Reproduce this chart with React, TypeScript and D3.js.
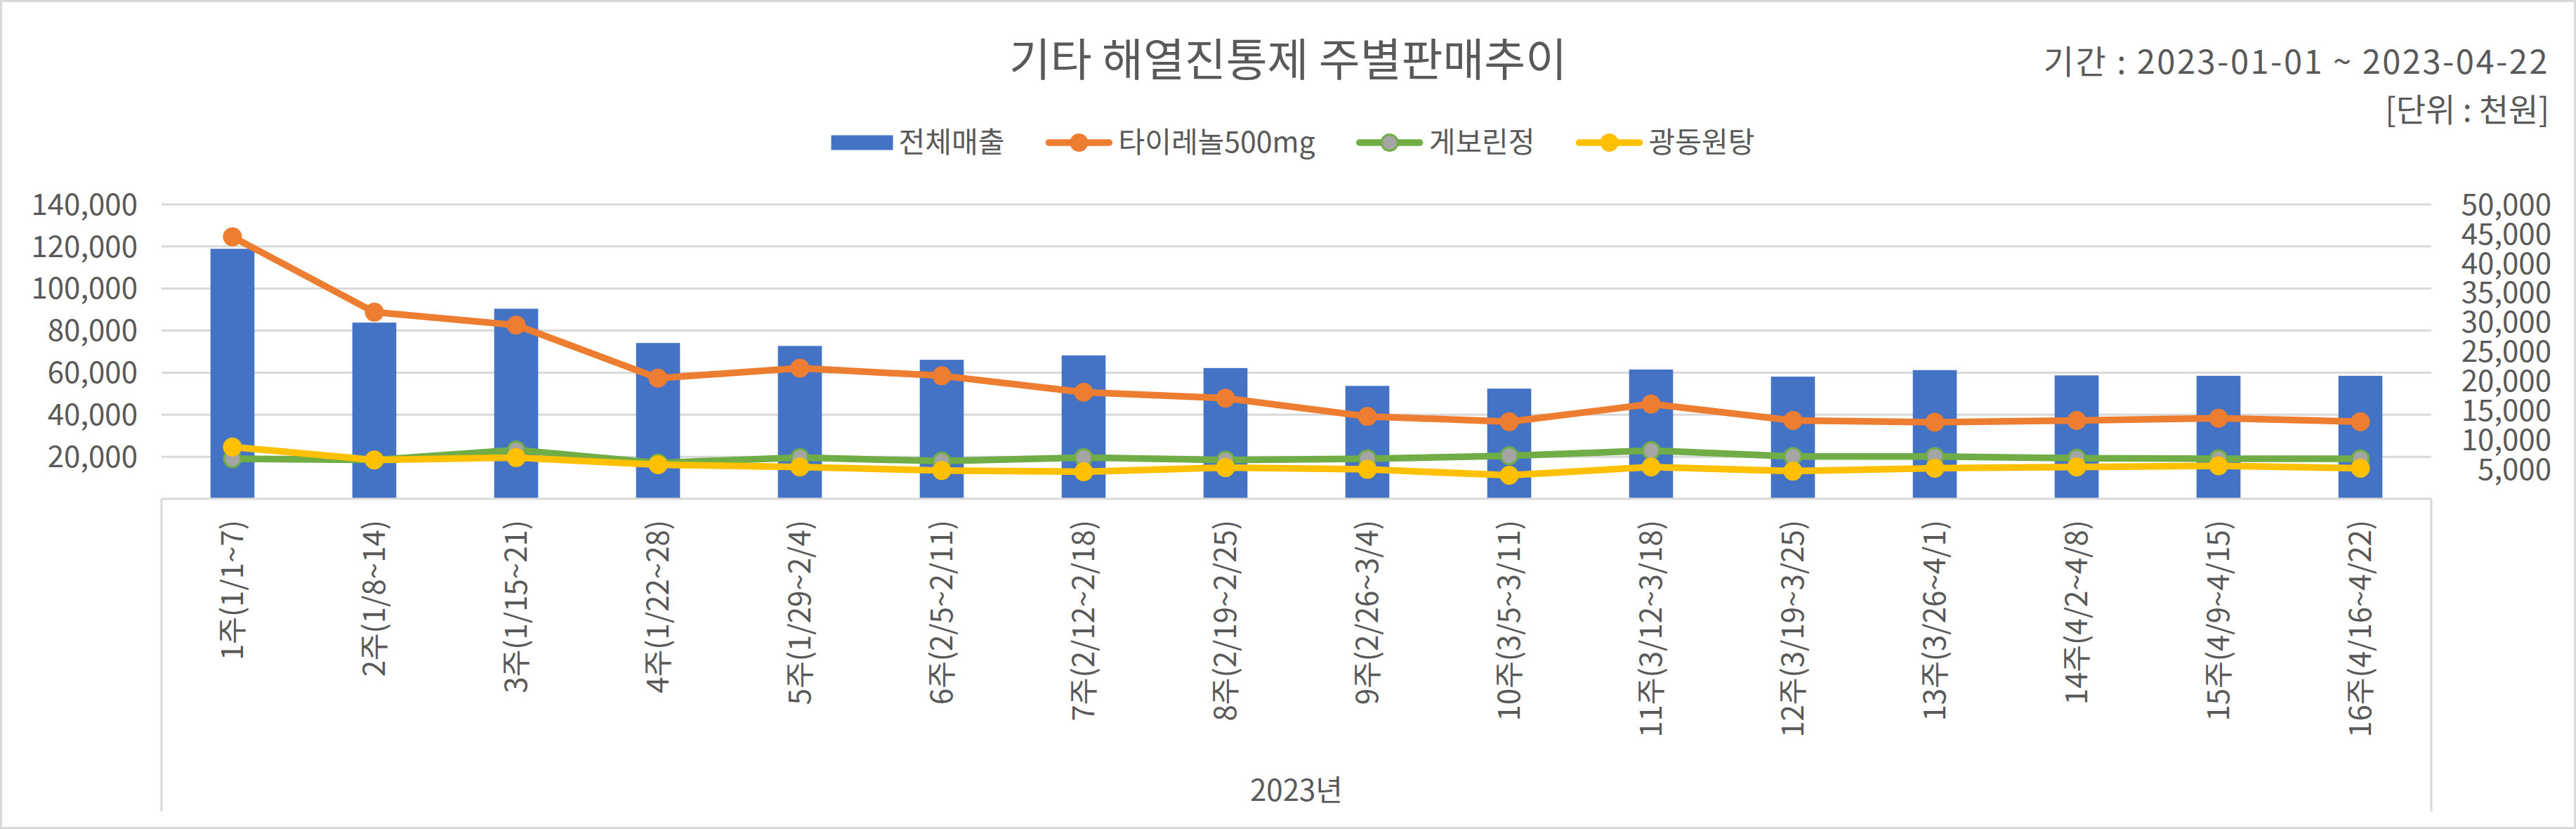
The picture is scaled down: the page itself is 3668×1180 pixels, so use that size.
import React, { useRef, useEffect } from 'react';
import * as d3 from 'd3';

// 주차 라벨
const weeks = [
  '1주(1/1~7)', '2주(1/8~14)', '3주(1/15~21)', '4주(1/22~28)',
  '5주(1/29~2/4)', '6주(2/5~2/11)', '7주(2/12~2/18)', '8주(2/19~2/25)',
  '9주(2/26~3/4)', '10주(3/5~3/11)', '11주(3/12~3/18)', '12주(3/19~3/25)',
  '13주(3/26~4/1)', '14주(4/2~4/8)', '15주(4/9~4/15)', '16주(4/16~4/22)',
];

// 전체매출 (왼쪽 축)
const totalSales = [118900, 83800, 90400, 74100, 72700, 66100, 68200, 62200, 53700, 52400, 61500, 58100, 61200, 58700, 58500, 58500];
// 품목별 (오른쪽 축)
const tylenol = [44500, 31700, 29500, 20500, 22200, 20900, 18100, 17100, 14000, 13100, 16100, 13300, 13000, 13300, 13700, 13100];
const geborin = [6800, 6600, 8300, 6100, 7000, 6400, 7000, 6600, 6800, 7300, 8200, 7200, 7200, 6900, 6800, 6800];
const gwangdong = [8800, 6600, 7000, 5800, 5400, 4800, 4600, 5300, 5000, 4000, 5400, 4700, 5200, 5400, 5600, 5200];

const leftTicks = [20000, 40000, 60000, 80000, 100000, 120000, 140000];
const rightTicks = [5000, 10000, 15000, 20000, 25000, 30000, 35000, 40000, 45000, 50000];

const TITLE = '기타 해열진통제 주별판매추이';
const PERIOD = '기간 : 2023-01-01 ~ 2023-04-22';
const UNIT = '[단위 : 천원]';
const YEAR = '2023년';

const FONT = '"Noto Sans CJK KR", "Noto Sans", sans-serif';
const TEXT = '#595959';
const GRID = '#D9D9D9';

const lineSeries = [
  { name: '타이레놀500mg', values: tylenol, color: '#ED7D31', fill: '#ED7D31' },
  { name: '게보린정', values: geborin, color: '#70AD47', fill: '#A5A5A5' },
  { name: '광동원탕', values: gwangdong, color: '#FFC000', fill: '#FFC000' },
];

const W = 3668;
const H = 1180;

const Chart: React.FC = () => {
  const svgRef = useRef<SVGSVGElement | null>(null);

  useEffect(() => {
    if (!svgRef.current) return;
    const svg = d3.select(svgRef.current);
    svg.selectAll('*').remove();

    const left = 230, right = 3462, top = 291, bottom = 710, catBottom = 1155;

    const x = d3.scaleBand().domain(weeks).range([left, right]).paddingInner(0.69).paddingOuter(0.345);
    const yL = d3.scaleLinear().domain([0, 140000]).range([bottom, top]);
    const yR = d3.scaleLinear().domain([0, 50000]).range([bottom, top]);
    const cx = (i: number) => x(weeks[i])! + x.bandwidth() / 2;

    svg.append('rect')
      .attr('x', 1.5).attr('y', 1.5).attr('width', W - 3).attr('height', H - 3)
      .attr('fill', '#ffffff').attr('stroke', GRID).attr('stroke-width', 3);

    // 제목
    svg.append('text')
      .attr('x', W / 2).attr('y', 108)
      .attr('text-anchor', 'middle').attr('font-size', 64).attr('fill', TEXT)
      .attr('font-family', FONT).text(TITLE);

    svg.append('text')
      .attr('x', 3630).attr('y', 105)
      .attr('text-anchor', 'end').attr('font-size', 47).attr('fill', TEXT)
      .attr('letter-spacing', 2.5)
      .attr('font-family', FONT).text(PERIOD);

    svg.append('text')
      .attr('x', 3630).attr('y', 173)
      .attr('text-anchor', 'end').attr('font-size', 46).attr('fill', TEXT)
      .attr('font-family', FONT).text(UNIT);

    // 그리드
    svg.append('g').selectAll('line')
      .data(leftTicks)
      .join('line')
      .attr('x1', left).attr('x2', right)
      .attr('y1', d => yL(d)).attr('y2', d => yL(d))
      .attr('stroke', GRID).attr('stroke-width', 3);

    // 축 라벨
    svg.append('g').selectAll('text')
      .data(leftTicks)
      .join('text')
      .attr('x', 196).attr('y', d => yL(d)).attr('dy', '0.35em')
      .attr('text-anchor', 'end').attr('font-size', 42).attr('fill', TEXT)
      .attr('font-family', FONT)
      .text(d => d3.format(',')(d));

    svg.append('g').selectAll('text')
      .data(rightTicks)
      .join('text')
      .attr('x', 3633).attr('y', d => yR(d)).attr('dy', '0.35em')
      .attr('text-anchor', 'end').attr('font-size', 42).attr('fill', TEXT)
      .attr('font-family', FONT)
      .text(d => d3.format(',')(d));

    // 막대
    svg.append('g').selectAll('rect')
      .data(totalSales)
      .join('rect')
      .attr('x', (d, i) => x(weeks[i])!)
      .attr('y', d => yL(d))
      .attr('width', x.bandwidth())
      .attr('height', d => bottom - yL(d))
      .attr('fill', '#4472C4');

    // 카테고리 축
    const axis = svg.append('g').attr('stroke', GRID).attr('stroke-width', 3);
    axis.append('line').attr('x1', left).attr('x2', right).attr('y1', bottom).attr('y2', bottom);
    axis.append('line').attr('x1', left).attr('x2', left).attr('y1', bottom).attr('y2', catBottom);
    axis.append('line').attr('x1', right).attr('x2', right).attr('y1', bottom).attr('y2', catBottom);

    svg.append('g').selectAll('text')
      .data(weeks)
      .join('text')
      .attr('transform', (d, i) => `translate(${cx(i)},740) rotate(-90)`)
      .attr('dy', '0.35em')
      .attr('text-anchor', 'end').attr('font-size', 42).attr('fill', TEXT)
      .attr('font-family', FONT)
      .text(d => d);

    svg.append('text')
      .attr('x', (left + right) / 2).attr('y', 1140)
      .attr('text-anchor', 'middle').attr('font-size', 42).attr('fill', TEXT)
      .attr('font-family', FONT).text(YEAR);

    // 선
    const line = d3.line<number>()
      .x((d, i) => cx(i))
      .y(d => yR(d));

    lineSeries.forEach(s => {
      const g = svg.append('g');
      g.append('path')
        .datum(s.values)
        .attr('d', line)
        .attr('fill', 'none')
        .attr('stroke', s.color)
        .attr('stroke-width', 9.5)
        .attr('stroke-linejoin', 'round')
        .attr('stroke-linecap', 'round');
      g.selectAll('circle')
        .data(s.values)
        .join('circle')
        .attr('cx', (d, i) => cx(i))
        .attr('cy', d => yR(d))
        .attr('r', 12)
        .attr('fill', s.fill)
        .attr('stroke', s.color)
        .attr('stroke-width', 3);
    });

    // 범례
    const legend = svg.append('g').attr('font-family', FONT).attr('font-size', 41).attr('fill', TEXT);
    const items = [{ name: '전체매출', color: '#4472C4', fill: '#4472C4', bar: true }, ...lineSeries.map(s => ({ ...s, bar: false }))];
    const ly = 203;
    const parts: { g: any, w: number }[] = [];
    items.forEach(it => {
      const g = legend.append('g');
      const sw = it.bar ? 88 : 96;
      if (it.bar) {
        g.append('rect').attr('x', 0).attr('y', ly - 10.5).attr('width', sw).attr('height', 21).attr('fill', it.color);
      } else {
        g.append('line').attr('x1', 5).attr('x2', sw - 5).attr('y1', ly).attr('y2', ly)
          .attr('stroke', it.color).attr('stroke-width', 9.5).attr('stroke-linecap', 'round');
        g.append('circle').attr('cx', sw / 2).attr('cy', ly).attr('r', 11.5)
          .attr('fill', it.fill).attr('stroke', it.color).attr('stroke-width', 3);
      }
      const t = g.append('text').attr('x', sw + 8).attr('y', ly).attr('dy', '0.35em').text(it.name);
      const tw = (t.node() as SVGTextElement).getComputedTextLength();
      parts.push({ g, w: sw + 8 + tw });
    });
    const gap = 58;
    const total = d3.sum(parts, p => p.w) + gap * (parts.length - 1);
    let cur = 1841 - total / 2;
    parts.forEach(p => {
      p.g.attr('transform', `translate(${cur},0)`);
      cur += p.w + gap;
    });

    return () => {
      svg.selectAll('*').remove();
    };
  }, []);

  return <svg ref={svgRef} width={W} height={H} style={{ display: 'block' }}></svg>;
};

export default function App() {
  return (
    <div style={{ position: 'absolute', left: 0, top: 0 }}>
      <Chart />
    </div>
  );
}
